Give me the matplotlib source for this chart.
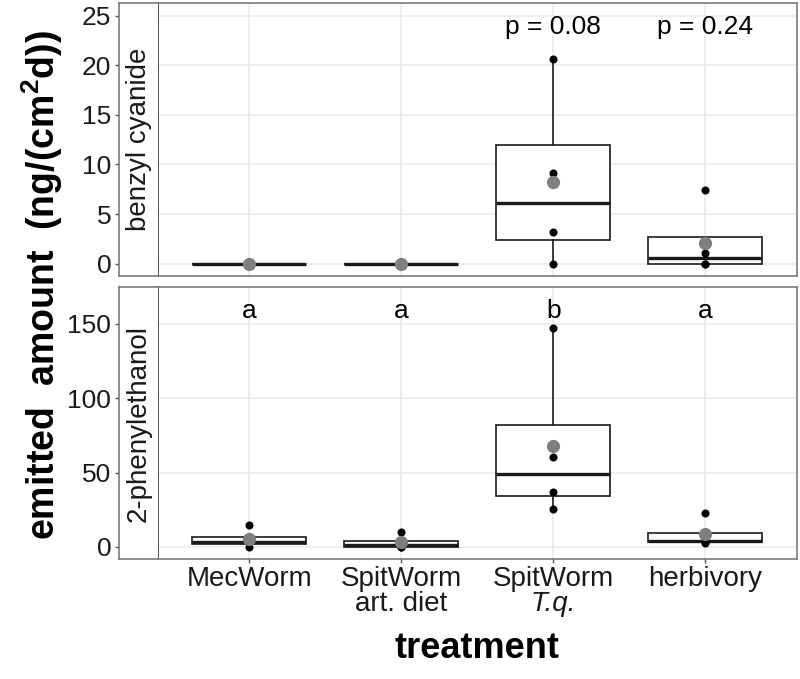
import matplotlib
matplotlib.use('Agg')
import matplotlib.pyplot as plt
import numpy as np

plt.rcParams['font.family'] = ['Liberation Sans', 'DejaVu Sans']
plt.rcParams['mathtext.fontset'] = 'custom'
plt.rcParams['mathtext.rm'] = 'Liberation Sans'
plt.rcParams['mathtext.it'] = 'Liberation Sans:italic'
plt.rcParams['mathtext.bf'] = 'Liberation Sans:bold'

# ---- data ----
categories = ['MecWorm', 'SpitWorm', 'SpitWorm', 'herbivory']
category_sublabels = ['', 'art. diet', 'T.q.', '']
sublabel_italic = [False, False, True, False]
compounds = ['benzyl cyanide', '2-phenylethanol']
benzyl_cyanide = [[0, 0, 0, 0], [0, 0, 0, 0], [0, 3.2, 9.1, 20.6], [0, 0, 1.1, 7.4]]
phenylethanol = [[0, 3.0, 4.0, 14.5], [0, 0.2, 2.2, 10.3], [25.2, 37.1, 60.3, 147.3], [2.8, 3.2, 5.0, 23.1]]
benzyl_labels = ['', '', 'p = 0.08', 'p = 0.24']
phenyl_labels = ['a', 'a', 'b', 'a']
benzyl_label_y = 23.9
phenyl_label_y = 158.5
benzyl_ticks = [0, 5, 10, 15, 20, 25]
phenyl_ticks = [0, 50, 100, 150]
benzyl_ylim = (-1.25, 26.25)
phenyl_ylim = (-8.3, 174.8)

W, H = 800, 679
fig = plt.figure(figsize=(W / 100, H / 100), dpi=100)

def fx(px):
    return px / W

def fy(py):
    return 1 - py / H

panel_left, panel_right = 158.3, 796.5
strip_left = 119.0
panels = [(3.3, 276.0), (286.7, 559.3)]
datasets = [benzyl_cyanide, phenylethanol]
labels_list = [benzyl_labels, phenyl_labels]
label_ys = [benzyl_label_y, phenyl_label_y]
ticks_list = [benzyl_ticks, phenyl_ticks]
ylims = [benzyl_ylim, phenyl_ylim]

FS = 19
XFS = 20
border_col = '#7a7a7a'
grid_col = '#EBEBEB'
positions = np.arange(1, len(categories) + 1)

for k in range(2):
    top_px, bot_px = panels[k]
    ph = bot_px - top_px
    ax = fig.add_axes([fx(panel_left), fy(bot_px), fx(panel_right - panel_left), ph / H])
    sax = fig.add_axes([fx(strip_left), fy(bot_px), fx(panel_left - strip_left), ph / H], sharey=ax)
    data = datasets[k]
    ax.boxplot(data, positions=positions, widths=0.75, patch_artist=True,
               showfliers=False, showcaps=False,
               boxprops=dict(facecolor='white', edgecolor='#1a1a1a', linewidth=1.2),
               medianprops=dict(color='#1a1a1a', linewidth=2.4, solid_capstyle='butt'),
               whiskerprops=dict(color='#1a1a1a', linewidth=1.2))
    for i, vals in enumerate(data):
        ax.plot(np.full(len(vals), positions[i]), vals, 'o', color='black', ms=5.8, zorder=4, mec='none')
        ax.plot(positions[i], np.mean(vals), 'o', color='#7f7f7f', ms=9.5, zorder=5, mec='none')
        if labels_list[k][i]:
            ax.text(positions[i], label_ys[k], labels_list[k][i], ha='center', va='center',
                    fontsize=FS, color='black')
    ax.set_xlim(0.4, 4.6)
    ax.set_ylim(*ylims[k])
    ax.set_yticks(ticks_list[k])
    ax.set_xticks(positions)
    ax.grid(True, color=grid_col, linewidth=1.2)
    ax.set_axisbelow(True)
    ax.tick_params(axis='y', length=0, labelleft=False)
    for s in ax.spines.values():
        s.set_color(border_col)
        s.set_linewidth(1.2)
    ax.spines['left'].set_color('#333333')
    if k == 0:
        ax.tick_params(axis='x', length=0, labelbottom=False)
    else:
        ax.set_xticklabels(categories)
        ax.tick_params(axis='x', length=3, width=1.0, color='#555555', pad=1.5,
                       labelsize=XFS, labelcolor='#1a1a1a')
        # second line of the category labels
        for i, sub in enumerate(category_sublabels):
            if sub:
                ax.text(positions[i], -(604 - bot_px) / ph, sub,
                        transform=ax.get_xaxis_transform(), ha='center', va='center',
                        fontsize=XFS, color='#1a1a1a',
                        fontstyle='italic' if sublabel_italic[i] else 'normal')
    # strip
    sax.set_facecolor('white')
    sax.set_xticks([])
    sax.tick_params(axis='y', length=3, width=1.0, color='#555555', pad=2.5,
                    labelsize=FS, labelcolor='#1a1a1a')
    for s in sax.spines.values():
        s.set_color(border_col)
        s.set_linewidth(1.2)
    sax.spines['right'].set_visible(False)
    sax.text(0.5, 0.5, compounds[k], transform=sax.transAxes, rotation=90,
             ha='center', va='center', fontsize=20, color='#1a1a1a')

fig.text(fx(42), fy(285), 'emitted  amount  (ng/(cm$^{\\mathbf{2}}$d))', rotation=90,
         ha='center', va='center', fontsize=27, fontweight='bold', color='black')
fig.text(fx((panel_left + panel_right) / 2), fy(648), 'treatment', ha='center', va='center',
         fontsize=26, fontweight='bold', color='black')

fig.savefig('out.png', dpi=100)
